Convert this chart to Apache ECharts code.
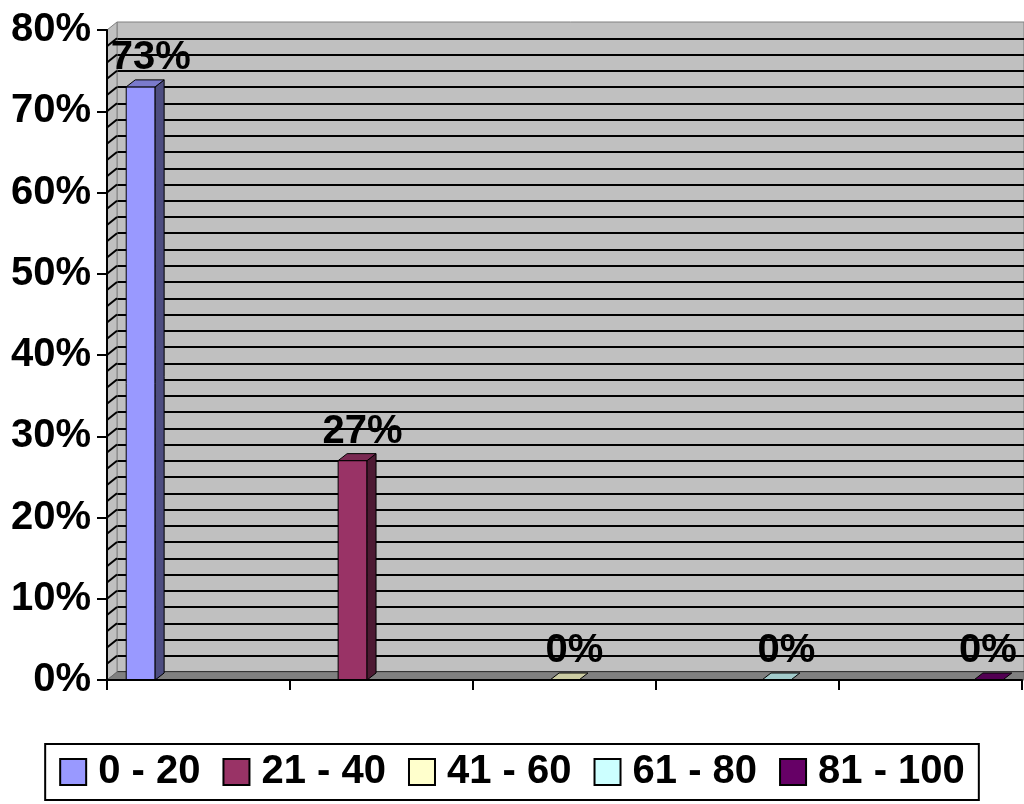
<!DOCTYPE html>
<html>
<head>
<meta charset="utf-8">
<script src="https://cdn.jsdelivr.net/npm/echarts@6/dist/echarts.min.js"></script>
<style>
  html, body { margin: 0; padding: 0; background: #fff; }
  #chart { width: 1024px; height: 804px; }
</style>
</head>
<body>
<div id="chart"></div>
<script>
// Score ranges (one series per range) and the share of each range
const seriesNames = ['0 - 20', '21 - 40', '41 - 60', '61 - 80', '81 - 100'];
const values = [73, 27, 0, 0, 0];
const colors = ['#9999FF', '#993366', '#FFFFCC', '#CCFFFF', '#660066'];
const yMax = 80;
const yLabelStep = 10;
const wallGridStep = 2;

const FONT = "'Liberation Sans', Arial, sans-serif";
// depth of the walls and of the bars (pseudo 3D)
const WALL_DX = 10, WALL_DY = 8;
const BAR_DX = 9, BAR_DY = 7;

function shade(hex, f) {
  const n = parseInt(hex.slice(1), 16);
  const r = Math.round(((n >> 16) & 255) * f);
  const g = Math.round(((n >> 8) & 255) * f);
  const b = Math.round((n & 255) * f);
  return 'rgb(' + r + ',' + g + ',' + b + ')';
}

// side wall with its slanted grid lines, plus the floor
function renderFrame(params, api) {
  const cs = params.coordSys;
  const x = cs.x;
  const yTop = api.coord([0, yMax])[1];
  const yBot = api.coord([0, 0])[1];
  const W = api.getWidth();
  const children = [];
  children.push({
    type: 'polygon',
    shape: { points: [[x, yTop], [x + WALL_DX, yTop - WALL_DY], [x + WALL_DX, yBot - WALL_DY], [x, yBot]] },
    style: { fill: '#C0C0C0', stroke: '#808080', lineWidth: 1 }
  });
  for (let v = wallGridStep; v < yMax; v += wallGridStep) {
    const y = api.coord([0, v])[1];
    children.push({
      type: 'line',
      shape: { x1: x, y1: y, x2: x + WALL_DX, y2: y - WALL_DY },
      style: { stroke: '#000', lineWidth: 2 }
    });
  }
  children.push({
    type: 'polygon',
    shape: { points: [[x, yBot], [x + WALL_DX, yBot - WALL_DY], [W, yBot - WALL_DY], [W, yBot]] },
    style: { fill: '#808080', stroke: '#6a6a6a', lineWidth: 1 }
  });
  return { type: 'group', children: children };
}

function makeBarRenderer(k) {
  return function (params, api) {
    const cat = api.value(0);
    const v = api.value(1);
    const base = api.coord([cat, 0]);
    const top = api.coord([cat, v]);
    const band = api.size([1, 0])[0];
    const w = band * 0.158;
    const x0 = base[0] - 2.5 * w + k * w;
    const by = base[1];
    const ty = top[1];
    const c = colors[k];
    const children = [];
    if (by - ty > 0.5) {
      children.push({
        type: 'rect',
        shape: { x: x0, y: ty, width: w, height: by - ty },
        style: { fill: c, stroke: '#000', lineWidth: 1 }
      });
      children.push({
        type: 'polygon',
        shape: { points: [[x0 + w, ty], [x0 + w + BAR_DX, ty - BAR_DY], [x0 + w + BAR_DX, by - BAR_DY], [x0 + w, by]] },
        style: { fill: shade(c, 0.5), stroke: '#000', lineWidth: 1 }
      });
    }
    children.push({
      type: 'polygon',
      shape: { points: [[x0, ty], [x0 + w, ty], [x0 + w + BAR_DX, ty - BAR_DY], [x0 + BAR_DX, ty - BAR_DY]] },
      style: { fill: shade(c, 0.8), stroke: '#000', lineWidth: 1 }
    });
    let lx = x0 + w / 2 + 10;
    lx = Math.min(lx, api.getWidth() - 36);
    children.push({
      type: 'text',
      style: {
        text: v + '%',
        x: lx, y: ty - 9,
        align: 'center', verticalAlign: 'bottom',
        font: 'bold 40px ' + FONT,
        fill: '#000'
      }
    });
    return { type: 'group', children: children };
  };
}

const chart = echarts.init(document.getElementById('chart'), null, { renderer: 'canvas' });

const series = [{
  type: 'custom',
  name: 'frame',
  xAxisIndex: 0, yAxisIndex: 0,
  z: 1,
  silent: true,
  renderItem: renderFrame,
  data: [[0, 0]]
}];
seriesNames.forEach(function (name, k) {
  series.push({
    type: 'custom',
    name: name,
    xAxisIndex: 0, yAxisIndex: 0,
    z: 3,
    silent: true,
    itemStyle: { color: colors[k], borderColor: '#000', borderWidth: 1 },
    renderItem: makeBarRenderer(k),
    encode: { x: 0, y: 1 },
    data: [[k, values[k]]]
  });
});

chart.setOption({
  animation: false,
  backgroundColor: '#fff',
  grid: [
    { left: 107, top: 30, right: 2, bottom: 124, containLabel: false },
    { left: 107 + WALL_DX, top: 30 - WALL_DY, right: 0, bottom: 124 + WALL_DY,
      show: true, backgroundColor: '#C0C0C0', borderColor: '#808080', borderWidth: 1 }
  ],
  xAxis: [
    {
      gridIndex: 0, type: 'category', data: seriesNames, boundaryGap: true, z: 5,
      axisLine: { show: true, lineStyle: { color: '#000', width: 2 } },
      axisTick: { show: true, length: 10, lineStyle: { color: '#000', width: 2 } },
      axisLabel: { show: false },
      splitLine: { show: false }
    },
    { gridIndex: 1, type: 'value', show: false, min: 0, max: 1 }
  ],
  yAxis: [
    {
      gridIndex: 0, type: 'value', min: 0, max: yMax, interval: yLabelStep, z: 5,
      axisLine: { show: true, lineStyle: { color: '#000', width: 2 } },
      axisTick: { show: true, length: 10, lineStyle: { color: '#000', width: 2 } },
      axisLabel: {
        formatter: '{value}%', margin: 16, color: '#000',
        fontSize: 40, fontWeight: 'bold', fontFamily: FONT
      },
      splitLine: { show: false }
    },
    {
      gridIndex: 1, type: 'value', min: 0, max: yMax, interval: wallGridStep,
      axisLine: { show: false }, axisTick: { show: false }, axisLabel: { show: false },
      splitLine: { show: true, showMaxLine: false, lineStyle: { color: '#000', width: 2 } }
    }
  ],
  legend: {
    data: seriesNames,
    left: 'center',
    top: 744,
    orient: 'horizontal',
    itemWidth: 26, itemHeight: 26, itemGap: 22,
    padding: [8, 14, 8, 14],
    backgroundColor: '#fff',
    borderColor: '#000', borderWidth: 2,
    icon: 'rect',
    selectedMode: false,
    textStyle: { fontSize: 40, fontWeight: 'bold', fontFamily: FONT, color: '#000', lineHeight: 40, padding: [0, 0, 0, 7] }
  },
  series: series
});
</script>
</body>
</html>
